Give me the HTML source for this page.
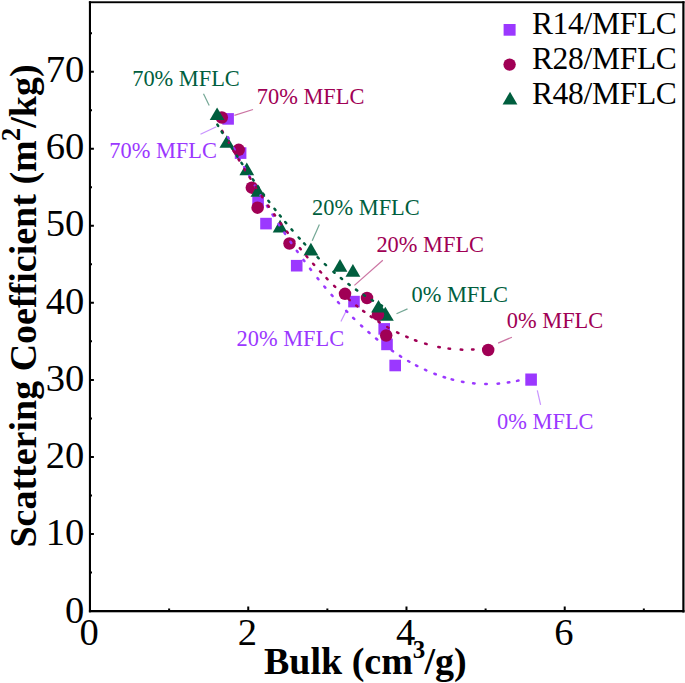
<!DOCTYPE html>
<html><head><meta charset="utf-8"><style>
html,body{margin:0;padding:0;background:#fff;width:685px;height:683px;overflow:hidden}
svg{display:block}
text{font-family:"Liberation Serif",serif}
</style></head><body>
<svg width="685" height="683" viewBox="0 0 685 683">
<rect x="88.9" y="1.3" width="2.1" height="611" fill="#000"/>
<rect x="88.9" y="1.3" width="595.6" height="1.9" fill="#000"/>
<rect x="682.3" y="1.3" width="2.2" height="611.2" fill="#000"/>
<rect x="88.9" y="610" width="595.6" height="2.3" fill="#000"/>
<path d="M90,572.48h2.0 M90,533.96h3.9 M90,495.44h2.0 M90,456.92h3.9 M90,418.40h2.0 M90,379.88h3.9 M90,341.36h2.0 M90,302.84h3.9 M90,264.32h2.0 M90,225.80h3.9 M90,187.28h2.0 M90,148.76h3.9 M90,110.24h2.0 M90,71.72h3.9 M90,33.20h2.0 M169.12,611.1v-2.6 M248.24,611.1v-4.5 M327.36,611.1v-2.6 M406.48,611.1v-4.5 M485.60,611.1v-2.6 M564.72,611.1v-4.5 M643.84,611.1v-2.6" stroke="#000" stroke-width="2" fill="none"/>
<text x="84.4" y="622.6" font-size="38.6" text-anchor="end">0</text>
<text x="84.4" y="545.3" font-size="38.6" text-anchor="end">10</text>
<text x="84.4" y="468.1" font-size="38.6" text-anchor="end">20</text>
<text x="84.4" y="391.3" font-size="38.6" text-anchor="end">30</text>
<text x="84.4" y="314.0" font-size="38.6" text-anchor="end">40</text>
<text x="84.4" y="236.4" font-size="38.6" text-anchor="end">50</text>
<text x="84.4" y="159.1" font-size="38.6" text-anchor="end">60</text>
<text x="84.4" y="82.2" font-size="38.6" text-anchor="end">70</text>
<text x="89.2" y="644.5" font-size="38.6" text-anchor="middle">0</text>
<text x="247.4" y="644.5" font-size="38.6" text-anchor="middle">2</text>
<text x="405.7" y="644.5" font-size="38.6" text-anchor="middle">4</text>
<text x="563.9" y="644.5" font-size="38.6" text-anchor="middle">6</text>
<text x="264" y="673.6" font-size="38" font-weight="bold">Bulk (cm<tspan dy="-15.6" font-size="25">3</tspan><tspan dy="15.6" dx="-0.8">/g)</tspan></text>
<text transform="translate(36,306) rotate(-90)" font-size="38" font-weight="bold" text-anchor="middle">Scattering Coefficient (m<tspan dy="-16.3" dx="-1" font-size="27">2</tspan><tspan dy="16.3">/kg)</tspan></text>
<rect x="222.30" y="113.10" width="11.6" height="11.6" fill="#9b38ff"/>
<rect x="234.80" y="147.30" width="11.6" height="11.6" fill="#9b38ff"/>
<rect x="252.30" y="196.20" width="11.6" height="11.6" fill="#9b38ff"/>
<rect x="260.20" y="217.80" width="11.6" height="11.6" fill="#9b38ff"/>
<rect x="290.90" y="259.90" width="11.6" height="11.6" fill="#9b38ff"/>
<rect x="348.20" y="295.80" width="11.6" height="11.6" fill="#9b38ff"/>
<rect x="378.40" y="323.10" width="11.6" height="11.6" fill="#9b38ff"/>
<rect x="381.20" y="338.60" width="11.6" height="11.6" fill="#9b38ff"/>
<rect x="389.40" y="359.70" width="11.6" height="11.6" fill="#9b38ff"/>
<rect x="525.30" y="373.50" width="11.6" height="12.2" fill="#9b38ff"/>
<path d="M385.3,306.7 L393.8,320.7 L376.8,320.7Z" fill="#005e3e"/>
<circle cx="221.80" cy="117.50" r="6.25" fill="#a00055"/>
<circle cx="238.70" cy="149.80" r="6.25" fill="#a00055"/>
<circle cx="251.80" cy="187.70" r="6.25" fill="#a00055"/>
<circle cx="257.60" cy="207.70" r="6.25" fill="#a00055"/>
<circle cx="289.50" cy="243.50" r="6.25" fill="#a00055"/>
<circle cx="345.00" cy="293.80" r="6.25" fill="#a00055"/>
<circle cx="367.00" cy="298.00" r="6.25" fill="#a00055"/>
<circle cx="378.00" cy="314.50" r="6.25" fill="#a00055"/>
<circle cx="386.20" cy="335.50" r="6.25" fill="#a00055"/>
<circle cx="488.20" cy="350.00" r="6.25" fill="#a00055"/>
<path d="M217.10,107.50 L224.50,120.10 L209.70,120.10Z" fill="#005e3e"/>
<path d="M226.90,135.20 L234.30,147.80 L219.50,147.80Z" fill="#005e3e"/>
<path d="M246.80,162.60 L254.20,175.20 L239.40,175.20Z" fill="#005e3e"/>
<path d="M257.90,184.20 L265.30,196.80 L250.50,196.80Z" fill="#005e3e"/>
<path d="M280.10,219.80 L287.50,232.40 L272.70,232.40Z" fill="#005e3e"/>
<path d="M310.90,242.80 L318.30,255.40 L303.50,255.40Z" fill="#005e3e"/>
<path d="M340.00,259.10 L347.40,271.70 L332.60,271.70Z" fill="#005e3e"/>
<path d="M352.90,264.10 L360.30,276.70 L345.50,276.70Z" fill="#005e3e"/>
<path d="M378.50,300.00 L385.90,312.60 L371.10,312.60Z" fill="#005e3e"/>
<path d="M228.10,137.41L228.64,138.43M233.95,148.41L234.65,149.72M239.01,157.72L239.74,159.04M244.16,167.01L244.89,168.31M249.22,175.93L249.97,177.24M254.86,185.66L255.61,186.95M260.58,195.31L261.37,196.61M266.91,205.69L267.71,206.97M272.47,214.57L273.28,215.85M278.51,223.96L279.34,225.22M284.27,232.66L285.11,233.91M290.49,241.77L291.34,243.01M296.81,250.76L297.68,251.98M303.48,259.92L304.38,261.12M310.10,268.69L311.02,269.88M317.49,278.10L318.43,279.27M324.35,286.48L325.31,287.62M331.57,294.92L332.56,296.05M338.00,302.13L339.01,303.23M346.20,310.86L347.23,311.93M353.16,317.89L354.23,318.94M361.09,325.47L362.18,326.48M368.40,332.06L369.53,333.04M376.05,338.52L377.21,339.46M383.82,344.64L385.01,345.55M391.80,350.48L393.04,351.34M399.89,355.92L401.15,356.72M408.13,360.96L409.43,361.71M416.05,365.34L417.38,366.03M424.96,369.72L426.33,370.34M434.38,373.71L435.78,374.25M443.66,377.02L445.10,377.47M451.67,379.36L453.12,379.73M461.96,381.67L463.43,381.94M473.10,383.31L474.59,383.46M485.26,384.05L486.75,384.07M497.58,383.70L499.07,383.58M507.85,382.56L509.32,382.33M517.02,380.89L518.48,380.56M527.10,378.34L528.54,377.91" fill="none" stroke="#9b38ff" stroke-width="2.5" stroke-linecap="round"/>
<path d="M222.18,130.81L222.91,132.11M228.12,141.36L228.86,142.65M233.29,150.32L234.04,151.61M238.54,159.24L239.31,160.52M244.45,169.01L245.23,170.29M249.65,177.41L250.45,178.68M255.58,186.74L256.39,187.99M261.63,195.98L262.46,197.23M268.07,205.53L268.91,206.76M274.18,214.31L275.05,215.54M280.44,223.02L281.33,224.23M286.84,231.62L287.75,232.83M293.26,239.94L294.18,241.12M299.82,248.13L300.77,249.30M306.40,256.04L307.38,257.19M313.14,263.79L314.13,264.90M320.07,271.42L321.09,272.52M326.50,278.19L327.55,279.26M334.13,285.81L335.21,286.86M341.29,292.58L342.40,293.59M348.65,299.13L349.79,300.11M356.20,305.45L357.37,306.39M363.15,310.89L364.35,311.79M370.70,316.40L371.93,317.25M378.46,321.61L379.72,322.42M387.25,326.99L388.55,327.73M397.12,332.34L398.46,333.02M406.22,336.64L407.59,337.24M414.98,340.21L416.39,340.73M425.16,343.64L426.60,344.06M438.29,346.93L439.76,347.22M448.55,348.62L450.03,348.80M460.76,349.61L462.26,349.66M472.07,349.55L473.57,349.47" fill="none" stroke="#a00055" stroke-width="2.5" stroke-linecap="round"/>
<path d="M217.37,124.54L218.14,125.83M221.60,131.56L222.39,132.84M226.54,139.58L227.34,140.85M231.56,147.55L232.37,148.82M236.66,155.47L237.48,156.73M241.50,162.84L242.33,164.08M247.09,171.13L247.93,172.36M252.77,179.34L253.63,180.57M257.89,186.55L258.77,187.77M263.10,193.69L263.99,194.90M268.39,200.77L269.30,201.96M274.53,208.72L275.45,209.90M279.80,215.35L280.74,216.51M285.25,221.99L286.21,223.14M291.53,229.40L292.52,230.54M298.67,237.49L299.68,238.60M304.12,243.42L305.15,244.51M310.79,250.40L311.83,251.47M317.61,257.22L318.68,258.27M324.87,264.13L325.97,265.15M333.44,271.82L334.57,272.80M340.85,278.06L342.02,279.01M348.46,284.07L349.65,284.98M355.98,289.62L357.21,290.49M363.67,294.89L364.93,295.71M371.68,299.94L372.97,300.71M380.71,305.10L382.03,305.81" fill="none" stroke="#005e3e" stroke-width="2.5" stroke-linecap="round"/>
<line x1="203.5" y1="93.8" x2="209.2" y2="105.5" stroke="#005e3e" stroke-width="1.2" stroke-opacity="0.55"/>
<line x1="234.4" y1="115.4" x2="253" y2="109.5" stroke="#a00055" stroke-width="1.2" stroke-opacity="0.55"/>
<line x1="200.5" y1="134.3" x2="216.4" y2="126.8" stroke="#9b38ff" stroke-width="1.2" stroke-opacity="0.55"/>
<line x1="312.2" y1="240.8" x2="319.4" y2="224.5" stroke="#005e3e" stroke-width="1.2" stroke-opacity="0.55"/>
<line x1="354.4" y1="285.4" x2="382.8" y2="260.2" stroke="#a00055" stroke-width="1.2" stroke-opacity="0.55"/>
<line x1="340.9" y1="321.6" x2="346.4" y2="310.5" stroke="#9b38ff" stroke-width="1.2" stroke-opacity="0.55"/>
<line x1="396.5" y1="313.7" x2="407.5" y2="308.9" stroke="#005e3e" stroke-width="1.2" stroke-opacity="0.55"/>
<line x1="498.1" y1="343.1" x2="511.9" y2="337.2" stroke="#a00055" stroke-width="1.2" stroke-opacity="0.55"/>
<line x1="537.3" y1="390.3" x2="540.6" y2="404.8" stroke="#9b38ff" stroke-width="1.2" stroke-opacity="0.55"/>
<text x="132.2" y="85.6" font-size="22.4" fill="#005e3e">70% MFLC</text>
<text x="256.8" y="103.8" font-size="22.4" fill="#a00055">70% MFLC</text>
<text x="109.3" y="157.7" font-size="22.4" fill="#9b38ff">70% MFLC</text>
<text x="312.1" y="215.4" font-size="22.4" fill="#005e3e">20% MFLC</text>
<text x="376.4" y="251.8" font-size="22.4" fill="#a00055">20% MFLC</text>
<text x="236.5" y="345.6" font-size="22.4" fill="#9b38ff">20% MFLC</text>
<text x="411.5" y="301.8" font-size="22.4" fill="#005e3e">0% MFLC</text>
<text x="506.8" y="328.0" font-size="22.4" fill="#a00055">0% MFLC</text>
<text x="497.1" y="429.0" font-size="22.4" fill="#9b38ff">0% MFLC</text>
<rect x="503.60" y="24.00" width="12" height="11.7" fill="#9b38ff"/>
<circle cx="509.6" cy="64.6" r="6.2" fill="#a00055"/>
<path d="M510.0,91.8 L517.4,104.5 L502.6,104.5Z" fill="#005e3e"/>
<text x="531.9" y="34.3" font-size="31.5" letter-spacing="-0.3">R14/MFLC</text>
<text x="531.9" y="69.4" font-size="31.5" letter-spacing="-0.3">R28/MFLC</text>
<text x="531.9" y="103.8" font-size="31.5" letter-spacing="-0.3">R48/MFLC</text>
</svg></body></html>
